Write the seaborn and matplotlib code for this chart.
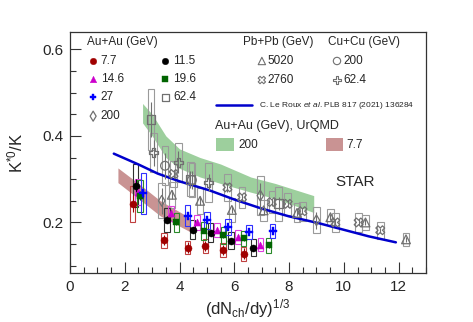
import numpy as np
import matplotlib
matplotlib.use("Agg")
import matplotlib.pyplot as plt
from matplotlib.patches import Rectangle
from matplotlib.ticker import MultipleLocator
import seaborn as sns

# theory curve (C. Le Roux et al.)
line_x = [1.6, 2.5, 3.2, 4.0, 5.1, 6.0, 7.0, 8.0, 9.1, 10.0, 10.9, 11.9]
line_y = [0.359, 0.334, 0.313, 0.295, 0.274, 0.253, 0.232, 0.214, 0.198, 0.183, 0.168, 0.154]

# UrQMD bands
urqmd200_x = [2.65, 3.0, 3.5, 4.0, 4.75, 5.5, 6.6, 7.5, 8.9]
urqmd200_lo = [0.43, 0.40, 0.35, 0.325, 0.305, 0.29, 0.27, 0.255, 0.223]
urqmd200_hi = [0.475, 0.45, 0.40, 0.37, 0.35, 0.335, 0.305, 0.29, 0.262]
urqmd77_x = [1.75, 2.5, 3.3, 4.4]
urqmd77_lo = [0.292, 0.255, 0.215, 0.178]
urqmd77_hi = [0.326, 0.29, 0.25, 0.21]

# Au+Au BES data
au77_x = [2.29, 3.44, 4.30, 4.94, 5.58, 6.34]
au77_y = [0.243, 0.159, 0.142, 0.145, 0.136, 0.128]
au77_stat = [0.02, 0.012, 0.012, 0.012, 0.012, 0.012]
au77_syst = [0.042, 0.017, 0.016, 0.016, 0.016, 0.016]

au115_x = [2.40, 3.55, 4.48, 5.14, 5.88, 6.70]
au115_y = [0.285, 0.206, 0.183, 0.176, 0.158, 0.142]
au115_stat = [0.015, 0.008, 0.007, 0.007, 0.007, 0.007]
au115_syst = [0.05, 0.028, 0.022, 0.022, 0.02, 0.02]

au146_x = [2.49, 3.69, 4.63, 5.36, 6.13, 6.95]
au146_y = [0.27, 0.221, 0.20, 0.183, 0.166, 0.149]
au146_stat = [0.012, 0.008, 0.007, 0.007, 0.006, 0.006]
au146_syst = [0.03, 0.018, 0.018, 0.016, 0.016, 0.015]

au196_x = [2.56, 3.88, 4.88, 5.60, 6.34, 7.25]
au196_y = [0.262, 0.20, 0.18, 0.17, 0.163, 0.147]
au196_stat = [0.01, 0.006, 0.005, 0.005, 0.005, 0.005]
au196_syst = [0.037, 0.022, 0.02, 0.02, 0.018, 0.018]

au27_x = [2.68, 4.30, 5.00, 5.77, 6.54, 7.40]
au27_y = [0.267, 0.216, 0.205, 0.19, 0.178, 0.18]
au27_stat = [0.01, 0.006, 0.005, 0.005, 0.005, 0.005]
au27_syst = [0.048, 0.025, 0.02, 0.018, 0.016, 0.016]

# higher energies (gray)
au624_x = [2.96, 4.40, 7.62]
au624_y = [0.438, 0.300, 0.243]
au624_stat = [0.04, 0.02, 0.015]
au624_syst = [0.07, 0.04, 0.04]

au200_x = [3.35, 6.95, 9.0]
au200_y = [0.25, 0.262, 0.205]
au200_stat = [0.03, 0.03, 0.02]
au200_syst = [0.04, 0.045, 0.03]

pb5020_x = [3.72, 4.75, 5.91, 7.07, 8.29, 9.51, 10.79, 12.27]
pb5020_y = [0.264, 0.25, 0.229, 0.228, 0.222, 0.212, 0.2, 0.161]
pb5020_stat = [0.01, 0.01, 0.008, 0.008, 0.008, 0.007, 0.007, 0.006]
pb5020_syst = [0.03, 0.03, 0.028, 0.025, 0.022, 0.018, 0.018, 0.015]

pb2760_x = [3.78, 5.75, 6.28, 7.37, 7.95, 8.49, 9.69, 10.54, 11.33]
pb2760_y = [0.312, 0.281, 0.258, 0.247, 0.243, 0.226, 0.2, 0.2, 0.182]
pb2760_stat = [0.01, 0.01, 0.008, 0.008, 0.008, 0.007, 0.007, 0.007, 0.006]
pb2760_syst = [0.03, 0.032, 0.025, 0.025, 0.025, 0.022, 0.022, 0.022, 0.02]

cucu200_x = [3.47, 4.45]
cucu200_y = [0.331, 0.298]
cucu200_stat = [0.03, 0.02]
cucu200_syst = [0.045, 0.04]

cucu624_x = [3.05, 3.96, 5.06]
cucu624_y = [0.361, 0.339, 0.293]
cucu624_stat = [0.03, 0.025, 0.02]
cucu624_syst = [0.045, 0.045, 0.045]

sns.set_style("white")
plt.rcParams['font.family'] = ['Liberation Sans', 'DejaVu Sans']
plt.rcParams['mathtext.fontset'] = 'custom'
plt.rcParams['mathtext.rm'] = 'Liberation Sans'
plt.rcParams['mathtext.it'] = 'Liberation Sans:italic'

fig = plt.figure(figsize=(4.73, 3.22), dpi=100)
ax = fig.add_axes([0.148, 0.152, 0.7526, 0.7484])

green_band = '#9dcf9d'
red_band = '#c99393'
gray = '#707070'
gray_box = '#9a9a9a'

# bands
ax.fill_between(urqmd200_x, urqmd200_lo, urqmd200_hi, color=green_band, lw=0, zorder=1)
ax.fill_between(urqmd77_x, urqmd77_lo, urqmd77_hi, color=red_band, lw=0, zorder=1)

# theory line
sns.lineplot(x=line_x, y=line_y, ax=ax, color='#0000cc', lw=1.8, zorder=3)


def draw_series(x, y, stat, syst, color, marker, size, filled, bw, boxcolor=None, lw=0.8):
    boxcolor = boxcolor or color
    for xi, yi, si in zip(x, y, syst):
        ax.add_patch(Rectangle((xi - bw / 2, yi - si), bw, 2 * si, fill=False,
                               ec=boxcolor, lw=lw, zorder=2))
    ax.errorbar(x, y, yerr=stat, fmt='none', ecolor=color, elinewidth=0.8, capsize=0, zorder=4)
    if filled:
        sns.scatterplot(x=x, y=y, ax=ax, marker=marker, s=size, color=color,
                        edgecolor=color, linewidth=0.3, zorder=5)
    else:
        sns.scatterplot(x=x, y=y, ax=ax, marker=marker, s=size, color=color,
                        facecolor='none', edgecolor=color, linewidth=0.9, zorder=5)


# gray (higher energy) points
draw_series(au624_x, au624_y, au624_stat, au624_syst, gray, 's', 40, False, 0.24, gray_box)
draw_series(au200_x, au200_y, au200_stat, au200_syst, gray, 'd', 30, False, 0.24, gray_box)
draw_series(pb5020_x, pb5020_y, pb5020_stat, pb5020_syst, gray, '^', 40, False, 0.24, gray_box)
draw_series(pb2760_x, pb2760_y, pb2760_stat, pb2760_syst, gray, 'X', 40, False, 0.24, gray_box)
draw_series(cucu200_x, cucu200_y, cucu200_stat, cucu200_syst, gray, 'o', 40, False, 0.24, gray_box)
draw_series(cucu624_x, cucu624_y, cucu624_stat, cucu624_syst, gray, 'P', 45, False, 0.24, gray_box)

# Au+Au BES points
draw_series(au77_x, au77_y, au77_stat, au77_syst, '#a00000', 'o', 26, True, 0.2, '#c04040')
draw_series(au115_x, au115_y, au115_stat, au115_syst, 'black', 'o', 26, True, 0.2, '#303030')
draw_series(au146_x, au146_y, au146_stat, au146_syst, '#cc00cc', '^', 26, True, 0.2, '#e040e0')
draw_series(au196_x, au196_y, au196_stat, au196_syst, '#006400', 's', 22, True, 0.2, '#2a8a2a')
draw_series(au27_x, au27_y, au27_stat, au27_syst, '#0000ff', 'P', 32, True, 0.2, '#3030ff')

# axes
ax.set_xlim(0, 13.0)
ax.set_ylim(0.083, 0.640)
ax.xaxis.set_major_locator(MultipleLocator(2))
ax.xaxis.set_minor_locator(MultipleLocator(0.5))
ax.yaxis.set_major_locator(MultipleLocator(0.2))
ax.yaxis.set_minor_locator(MultipleLocator(0.05))
ax.yaxis.set_major_formatter(plt.FormatStrFormatter('%.1f'))
ax.tick_params(which='both', bottom=True, left=True, top=False, right=False,
               direction='in', width=0.8, color='#333333')
ax.tick_params(which='major', length=8, labelsize=11, pad=5)
ax.tick_params(which='minor', length=4)
for s in ax.spines.values():
    s.set_color('#333333')
    s.set_linewidth(0.9)
ax.set_xlabel(r'(dN$_{\mathrm{ch}}$/dy)$^{1/3}$', fontsize=12, labelpad=2)
ax.set_ylabel(r'K$^{*0}$/K', fontsize=12, labelpad=12)

# legend (hand placed, ROOT style)
T = ax.transAxes
fs = 8.5
ax.text(0.048, 0.959, 'Au+Au (GeV)', transform=T, fontsize=fs, va='center')
leg_rows = [0.880, 0.805, 0.730, 0.651]
col1 = [('7.7', '#a00000', 'o', True), ('14.6', '#cc00cc', '^', True),
        ('27', '#0000ff', 'P', True), ('200', gray, 'd', False)]
col2 = [('11.5', 'black', 'o', True), ('19.6', '#006400', 's', True),
        ('62.4', gray, 's', False)]
for (mx, tx, items) in [(0.065, 0.086, col1), (0.268, 0.289, col2)]:
    for yy, (lab, c, m, f) in zip(leg_rows, items):
        ax.scatter([mx], [yy], transform=T, marker=m, s=22 if f else 26,
                   color=c if f else 'none', edgecolor=c, lw=0.3 if f else 0.9, zorder=6)
        ax.text(tx, yy, lab, transform=T, fontsize=fs, va='center')

ax.text(0.486, 0.959, 'Pb+Pb (GeV)', transform=T, fontsize=fs, va='center')
ax.text(0.725, 0.959, 'Cu+Cu (GeV)', transform=T, fontsize=fs, va='center')
col3 = [('5020', '^'), ('2760', 'X')]
col4 = [('200', 'o'), ('62.4', 'P')]
for (mx, tx, items) in [(0.539, 0.556, col3), (0.750, 0.767, col4)]:
    for yy, (lab, m) in zip([0.880, 0.801], items):
        ax.scatter([mx], [yy], transform=T, marker=m, s=28, color='none',
                   edgecolor=gray, lw=0.8, zorder=6)
        ax.text(tx, yy, lab, transform=T, fontsize=fs, va='center')

ax.plot([0.410, 0.511], [0.697, 0.697], transform=T, color='#0000cc', lw=1.8)
ax.text(0.531, 0.697, r'C. Le Roux $\it{et\ al}$. PLB 817 (2021) 136284', transform=T,
        fontsize=6, va='center')
ax.text(0.407, 0.610, 'Au+Au (GeV), UrQMD', transform=T, fontsize=9, va='center')
ax.add_patch(Rectangle((0.410, 0.506), 0.051, 0.054, transform=T, color=green_band, lw=0))
ax.text(0.472, 0.533, '200', transform=T, fontsize=fs, va='center')
ax.add_patch(Rectangle((0.719, 0.506), 0.048, 0.054, transform=T, color=red_band, lw=0))
ax.text(0.775, 0.533, '7.7', transform=T, fontsize=fs, va='center')

ax.text(0.80, 0.378, 'STAR', transform=T, fontsize=11, ha='center', va='center')

fig.savefig('out.png', dpi=100)
